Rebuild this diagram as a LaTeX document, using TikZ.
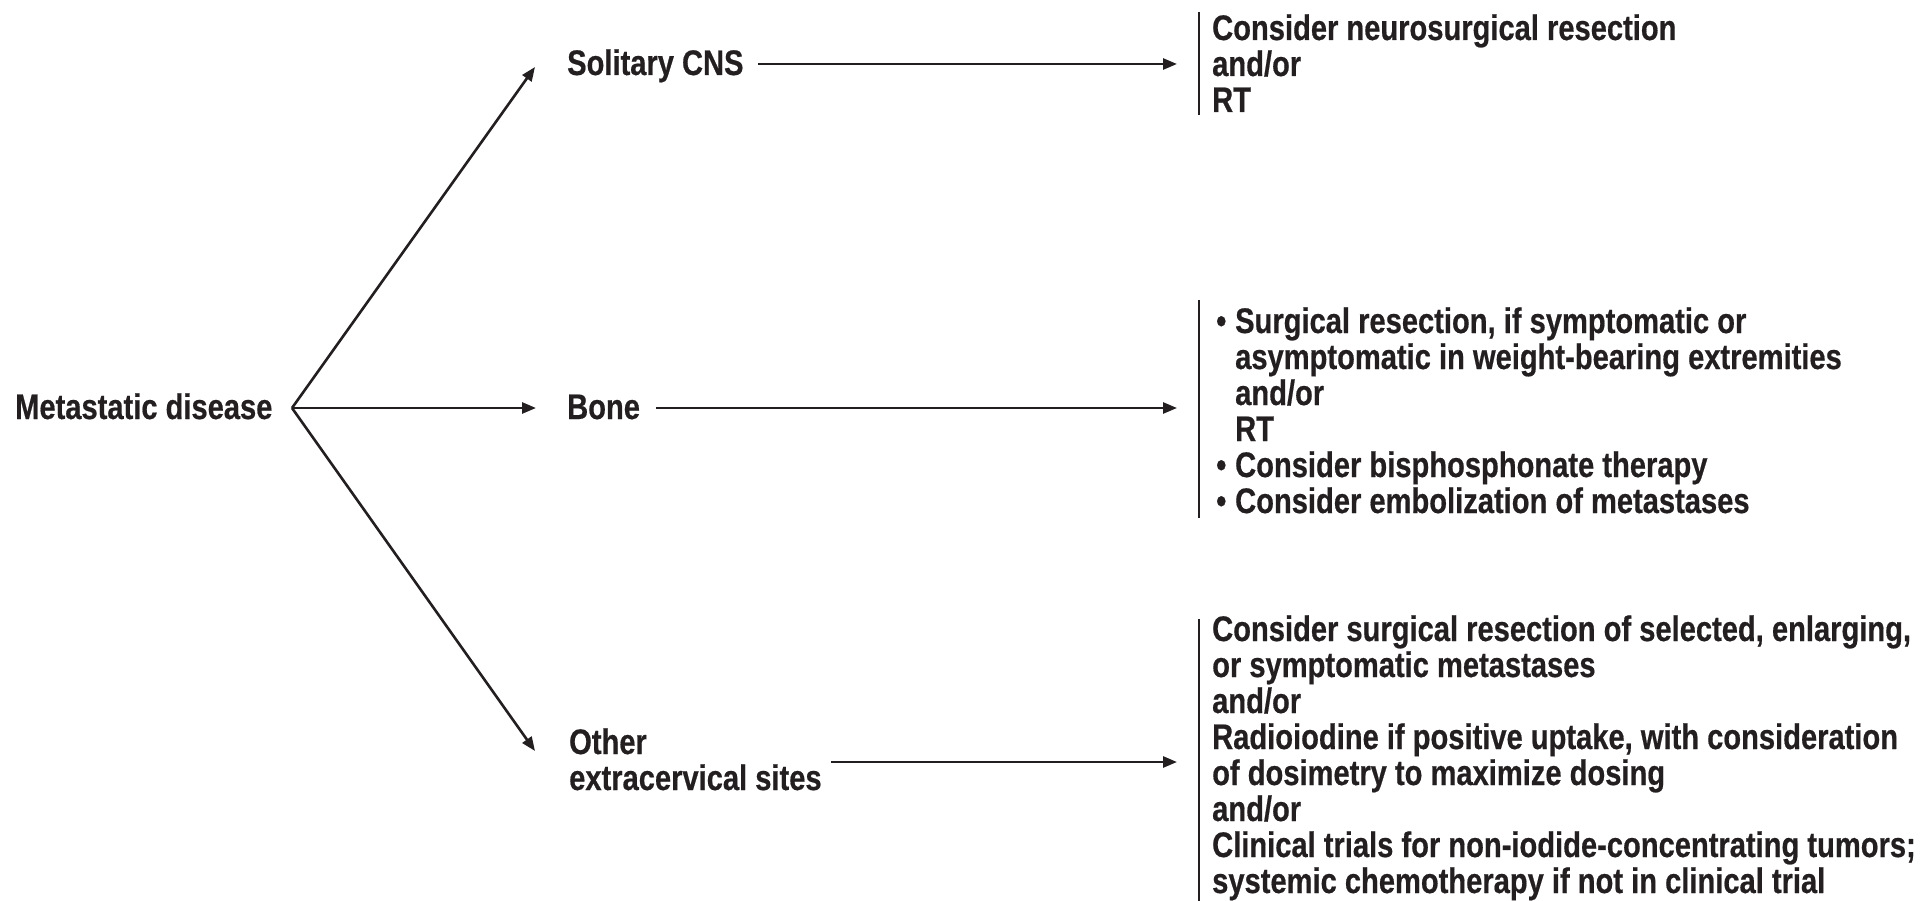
\documentclass[tikz,border=0pt]{standalone}
\usepackage{fontspec}
\setmainfont{Liberation Sans}[FakeStretch=0.82,BoldFeatures={FakeBold=0.5}]
\usetikzlibrary{arrows.meta}
\definecolor{ink}{RGB}{35,31,32}
\newcommand{\bul}{\makebox[19pt][l]{\textbullet}}
\newcommand{\ind}{\hspace*{19pt}}
\begin{document}
\begin{tikzpicture}[x=1pt,y=-1pt,
  label/.style={font=\fontsize{35.5}{36}\selectfont\bfseries, text=ink,
    inner sep=0pt, anchor=base west, align=left},
  link/.style={draw=ink, line width=2.6pt,
    -{Triangle[length=14pt,width=11pt]}},
  brace/.style={draw=ink, line width=2.6pt}]
\useasboundingbox (0,0) rectangle (1923,901);

% left root and its split point
\node[label] (root) at (15,419) {Metastatic disease};
\coordinate (split) at (292,408);

% site labels (anchored at the baseline of their last line)
\node[label] (cns) at (567,75) {Solitary CNS};
\node[label] (bone) at (567,419) {Bone};
\node[label] (other) at (569,790) {Other\\extracervical sites};

% arrow ends next to the site labels
\coordinate (cns-in) at (535,67);
\coordinate (bone-in) at (536,408);
\coordinate (other-in) at (535,751);

% arrow starts and ends on the horizontal runs
\coordinate (cns-out) at (758,64);
\coordinate (cns-end) at (1177,64);
\coordinate (bone-out) at (656,408);
\coordinate (bone-end) at (1177,408);
\coordinate (other-out) at (831,762);
\coordinate (other-end) at (1177,762);

% treatment texts
\node[label] (cns-res) at (1212,112)
  {Consider neurosurgical resection\\and/or\\RT};
\node[label] (bone-res) at (1216,513)
  {\bul Surgical resection, if symptomatic or\\
   \ind asymptomatic in weight-bearing extremities\\
   \ind and/or\\
   \ind RT\\
   \bul Consider bisphosphonate therapy\\
   \bul Consider embolization of metastases};
\node[label] (other-res) at (1212,893)
  {Consider surgical resection of selected, enlarging,\\
   or symptomatic metastases\\
   and/or\\
   Radioiodine if positive uptake, with consideration\\
   of dosimetry to maximize dosing\\
   and/or\\
   Clinical trials for non-iodide-concentrating tumors;\\
   systemic chemotherapy if not in clinical trial};

% vertical bars in front of the treatment texts
\coordinate (cns-top) at (1199,12);
\coordinate (cns-bot) at (1199,115);
\coordinate (bone-top) at (1199,300);
\coordinate (bone-bot) at (1199,518);
\coordinate (other-top) at (1199,619);
\coordinate (other-bot) at (1199,901);
\draw[brace] (cns-top) -- (cns-bot);
\draw[brace] (bone-top) -- (bone-bot);
\draw[brace] (other-top) -- (other-bot);

% connectors
\draw[link] (split) -- (cns-in);
\draw[link] (split) -- (bone-in);
\draw[link] (split) -- (other-in);
\draw[link] (cns-out) -- (cns-end);
\draw[link] (bone-out) -- (bone-end);
\draw[link] (other-out) -- (other-end);
\end{tikzpicture}
\end{document}
